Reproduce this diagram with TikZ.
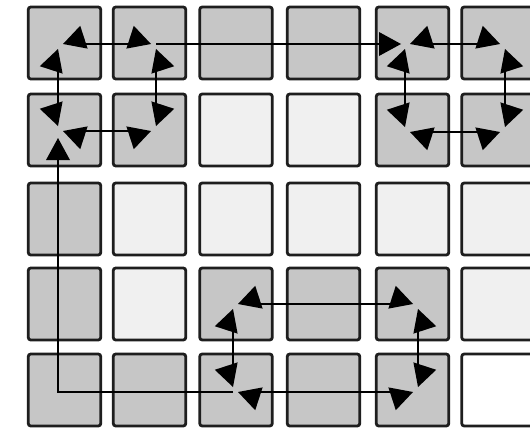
\documentclass[tikz,border=0pt]{standalone}
\usetikzlibrary{decorations.markings}
\definecolor{cellgray}{RGB}{198,198,198}
\definecolor{celllight}{RGB}{240,240,240}
\definecolor{cellline}{RGB}{30,30,30}
\tikzset{
  cell/.style={draw=cellline, line width=2.8pt, rounded corners=2.5pt,
    minimum width=72.5pt, minimum height=72pt, inner sep=0pt, outer sep=0pt},
  dk/.style={cell, fill=cellgray},
  lt/.style={cell, fill=celllight},
  wh/.style={cell, fill=white},
  link/.style={draw=black, line width=2pt},
  ringarrow/.style={link, shorten <=23pt, shorten >=23pt,
    postaction={decorate, decoration={markings,
      mark=at position 5pt with {\pgftransformrotate{-#1}%
        \fill[black, shorten <=0pt, shorten >=0pt] (0,0) -- (22,12) -- (22,-12) -- cycle;},
      mark=at position -5pt with {\pgftransformrotate{#1}%
        \fill[black, shorten <=0pt, shorten >=0pt] (0,0) -- (-22,12) -- (-22,-12) -- cycle;}}}},
  feedarrow/.style={link, shorten >=25pt,
    postaction={decorate, decoration={markings,
      mark=at position -#1 with {%
        \fill[black, shorten <=0pt, shorten >=0pt] (0,0) -- (-22,12) -- (-22,-12) -- cycle;}}}}
}
\begin{document}
\begin{tikzpicture}[x=1pt,y=1pt]
\useasboundingbox (0,0) rectangle (530,-431);
\clip (0,0) rectangle (530,-431);
\fill[white] (0,0) rectangle (530,-431);
% cells
\foreach \r/\yy/\sa/\sb/\sc/\sd/\se/\sf in {
  1/-43/dk/dk/dk/dk/dk/dk,
  2/-130/dk/dk/lt/lt/dk/dk,
  3/-219/dk/lt/lt/lt/lt/lt,
  4/-304/dk/lt/dk/dk/dk/lt,
  5/-390/dk/dk/dk/dk/dk/wh}{
  \node[\sa] (c\r-1) at (64.5,\yy) {};
  \node[\sb] (c\r-2) at (149.5,\yy) {};
  \node[\sc] (c\r-3) at (236,\yy) {};
  \node[\sd] (c\r-4) at (323.5,\yy) {};
  \node[\se] (c\r-5) at (412.5,\yy) {};
  \node[\sf] (c\r-6) at (498,\yy) {};
}
% ring corners
\coordinate (a-tl) at (58,-44);  \coordinate (a-tr) at (156,-44);
\coordinate (a-br) at (156,-131); \coordinate (a-bl) at (58,-131);
\coordinate (b-tl) at (405,-44); \coordinate (b-tr) at (505,-44);
\coordinate (b-br) at (505,-132); \coordinate (b-bl) at (405,-132);
\coordinate (g-tl) at (233,-304); \coordinate (g-tr) at (418,-304);
\coordinate (g-br) at (418,-392); \coordinate (g-bl) at (233,-392);
% long links
\draw[feedarrow=4pt] (a-tr) -- (b-tl);
\draw[feedarrow=7pt] (g-bl) -| (a-bl);
% rings
\foreach \p in {a,b,g}{
  \draw[ringarrow=18] (\p-tl) -- (\p-bl);
  \draw[ringarrow=18] (\p-bl) -- (\p-br);
  \draw[ringarrow=18] (\p-br) -- (\p-tr);
  \draw[ringarrow=18] (\p-tr) -- (\p-tl);
}
\end{tikzpicture}
\end{document}
